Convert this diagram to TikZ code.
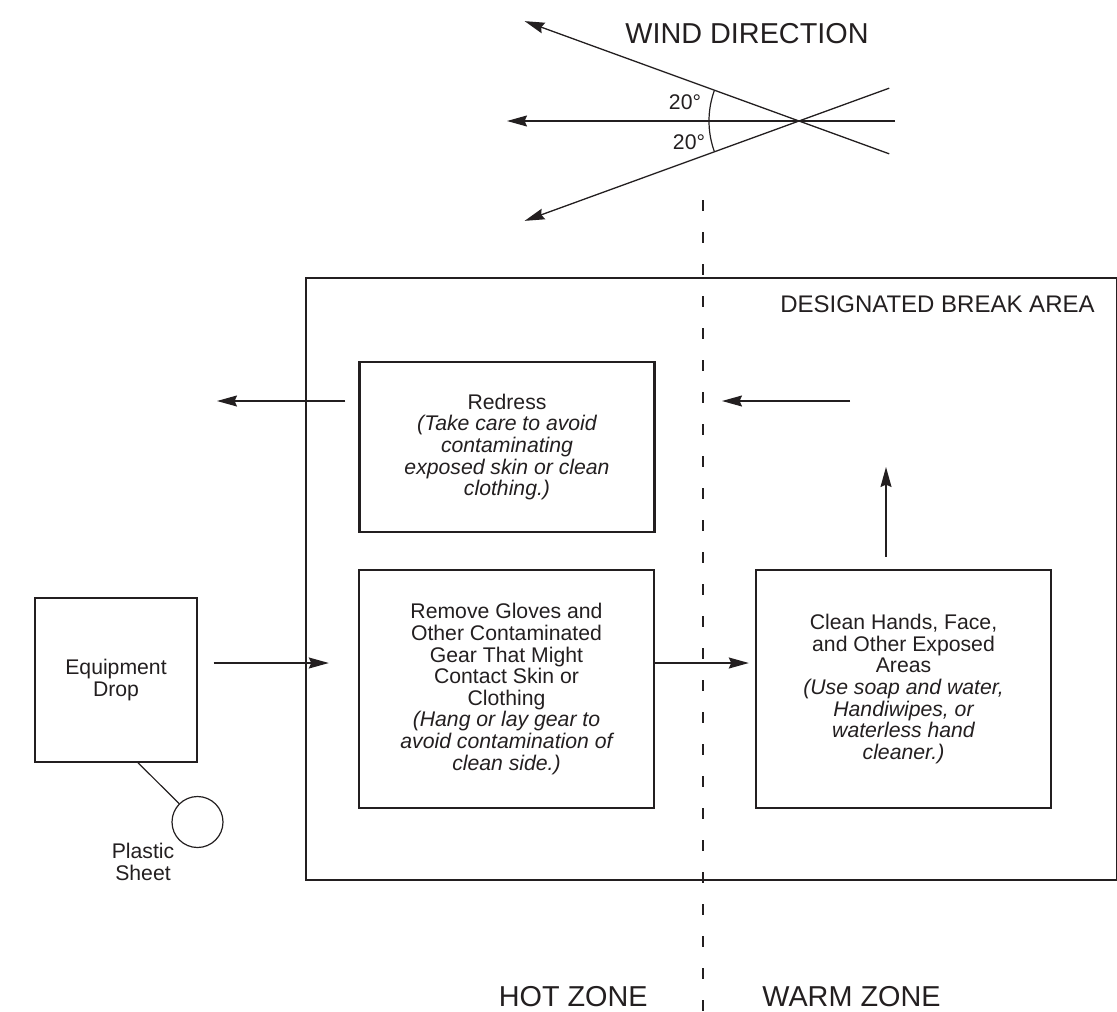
\documentclass[tikz,border=0pt]{standalone}
\usepackage{fontspec}
\setmainfont{Liberation Sans}
\definecolor{ink}{HTML}{231F20}
\usetikzlibrary{positioning, calc, arrows.meta}
\tikzset{
	boxnode/.style={
			draw=ink,
			line width=1.2pt,
			minimum width=147.5pt,
			minimum height=119pt,
			inner sep=0pt,
			align=center,
			text=ink,
			font=\fontsize{10.6}{10.8}\selectfont
		},
	dropnode/.style={
			boxnode,
			line width=0.7pt,
			minimum width=81pt,
			minimum height=82pt
		},
	areanode/.style={
			draw=ink,
			line width=0.9pt,
			minimum width=405.5pt,
			minimum height=301pt,
			inner sep=0pt
		},
	sheetnode/.style={
			circle,
			draw=ink,
			line width=0.6pt,
			minimum size=25.5pt,
			inner sep=0pt
		},
	textnode/.style={
			inner sep=0pt,
			align=center,
			text=ink,
			font=\fontsize{10.6}{10.8}\selectfont
		},
	bigtext/.style={
			inner sep=0pt,
			text=ink,
			font=\fontsize{14.4}{16}\selectfont
		},
	flow/.style={
			draw=ink,
			line width=0.65pt,
			-{Stealth[length=10pt, width=5.5pt, inset=1.2pt]}
		},
	zoneline/.style={
			draw=ink,
			line width=0.6pt,
			dash pattern=on 5.5pt off 10.5pt
		}
}

\begin{document}
\begin{tikzpicture}[x=0.5pt, y=-0.5pt]
\useasboundingbox (0,0) rectangle (1117,1011);

\node[areanode] (area) at (711.5,579) {};
\node[bigtext, anchor=east, font=\fontsize{12}{14}\selectfont] (break) at (1095,304) {DESIGNATED BREAK AREA};

\coordinate (zt) at (703,200);
\coordinate (zb) at (703,1011);
\draw[zoneline] (zt) -- (zb);

\coordinate (wc) at (799,121);
\coordinate (wa) at ($(wc)+(-20:96)$);
\coordinate (wb) at ($(wc)+(160:292)$);
\coordinate (wd) at ($(wc)+(20:96)$);
\coordinate (we) at ($(wc)+(200:292)$);
\coordinate (wf) at ($(wc)+(0:96)$);
\coordinate (wg) at ($(wc)+(180:292)$);
\draw[flow] (wa) -- (wb);
\draw[flow] (wd) -- (we);
\draw[flow] (wf) -- (wg);
\draw[draw=ink, line width=0.6pt] ($(wc)+(160:90)$) arc[start angle=160, end angle=200, radius=90];
\node[textnode] (ang1) at (685,102) {20°};
\node[textnode] (ang2) at (689,142) {20°};
\node[bigtext] (wind) at (747,34) {WIND DIRECTION};

\node[boxnode, minimum height=85pt] (redress) at (507,447) {Redress\\ \itshape (Take care to avoid\\ \itshape contaminating\\ \itshape exposed skin or clean\\ \itshape clothing.)};
\node[boxnode] (remove) at (506.5,689) {Remove Gloves and\\ Other Contaminated\\ Gear That Might\\ Contact Skin or\\ Clothing\\ \itshape (Hang or lay gear to\\ \itshape avoid contamination of\\ \itshape clean side.)};
\node[boxnode] (clean) at (903.5,689) {Clean Hands, Face,\\ and Other Exposed\\ Areas\\ \itshape (Use soap and water,\\ \itshape Handiwipes, or\\ \itshape waterless hand\\ \itshape cleaner.)};
\node[dropnode] (drop) at (116,680) {Equipment\\ Drop};
\node[sheetnode] (sheet) at (197.5,822) {};
\node[textnode] (sheetlabel) at (143,862) {Plastic\\ Sheet};

\coordinate (out) at (217,401);
\coordinate (back1) at (850,401);
\coordinate (back2) at (722,401);
\coordinate (up) at (886,467);

\draw[draw=ink, line width=0.6pt] ([xshift=11pt]drop.south) -- (sheet.north west);
\draw[flow] ([shift={(16,-17)}]drop.east) -- ([shift={(-29,-26)}]remove.west);
\draw[flow] ([shift={(0,-26)}]remove.east) -- ([shift={(-6,-26)}]clean.west);
\draw[flow] ([shift={(-17.5,-12)}]clean.north) -- (up);
\draw[flow] (back1) -- (back2);
\draw[flow] ([shift={(-13,-46)}]redress.west) -- (out);

\node[bigtext, anchor=east] (hot) at (648,997) {HOT ZONE};
\node[bigtext, anchor=west] (warm) at (762,997) {WARM ZONE};
\end{tikzpicture}
\end{document}
